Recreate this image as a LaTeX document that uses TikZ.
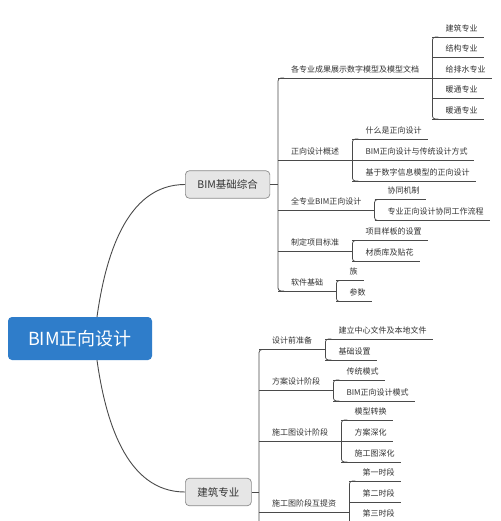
\documentclass[tikz,border=0pt]{standalone}
\usepackage{fontspec}
\setmainfont{Noto Sans CJK SC}
\usetikzlibrary{calc}
\definecolor{txt}{HTML}{333333}
\definecolor{linec}{HTML}{4A4A4A}
\definecolor{rootblue}{HTML}{2F7DCA}
\definecolor{boxfill}{HTML}{E6E6E6}
\definecolor{boxline}{HTML}{8C8C8C}
\tikzset{
  base/.style={font=\fontsize{8}{8}\selectfont, text=txt, inner xsep=0pt, inner ysep=3.5pt,
    text height=6pt, text depth=2pt, anchor=south west},
  l2/.style={base, execute at begin node=\hspace*{13pt}, execute at end node=\hspace*{13pt}},
  leaf/.style={base, execute at begin node=\hspace*{13pt}, execute at end node=\hspace*{6pt}},
  ln/.style={draw=linec, line width=0.75pt},
  br/.style={ln, rounded corners=3pt},
  rootbox/.style={fill=rootblue, rounded corners=4pt, text=white, font=\fontsize{18}{18}\selectfont,
    minimum width=144pt, minimum height=43pt, inner sep=0pt},
  subbox/.style={fill=boxfill, draw=boxline, line width=0.7pt, rounded corners=4pt, text=txt,
    font=\fontsize{10.5}{10.5}\selectfont, minimum height=27.5pt, inner xsep=12pt, inner ysep=0pt, anchor=west},
  curve/.style={ln, line width=0.9pt},
}
\begin{document}
\begin{tikzpicture}[x=1pt,y=-1pt]
\useasboundingbox (0,0) rectangle (500,521);
\fill[white] (0,0) rectangle (500,521);

% root and main topics
\node[rootbox] (r) at (80,338.5) {BIM正向设计};
\node[subbox] (b1) at (185,184.5) {BIM基础综合};
\node[subbox] (b2) at (185,492) {建筑专业};

\draw[curve] ([xshift=17pt]r.north) .. controls +(8,-57) and +(-60,0) .. (b1.west);
\draw[curve] ([xshift=17pt]r.south) .. controls +(8,57) and +(-60,0) .. (b2.west);

% BIM基础综合 branch
\node[l2] (a1) at (278,78) {各专业成果展示数字模型及模型文档};
\node[l2] (a2) at (278,160) {正向设计概述};
\node[l2] (a3) at (278,210) {全专业BIM正向设计};
\node[l2] (a4) at (278,251) {制定项目标准};
\node[l2] (a5) at (278,291) {软件基础};

\node[leaf] (a11) at (a1.south east |- 0,37) {建筑专业};
\node[leaf] (a12) at (a1.south east |- 0,57.5) {结构专业};
\node[leaf] (a13) at (a1.south east |- 0,78) {给排水专业};
\node[leaf] (a14) at (a1.south east |- 0,98.5) {暖通专业};
\node[leaf] (a15) at (a1.south east |- 0,119) {暖通专业};

\node[leaf] (a21) at (a2.south east |- 0,139) {什么是正向设计};
\node[leaf] (a22) at (a2.south east |- 0,160) {BIM正向设计与传统设计方式};
\node[leaf] (a23) at (a2.south east |- 0,181) {基于数字信息模型的正向设计};

\node[leaf] (a31) at (a3.south east |- 0,199.5) {协同机制};
\node[leaf] (a32) at (a3.south east |- 0,220.5) {专业正向设计协同工作流程};

\node[leaf] (a41) at (a4.south east |- 0,240.5) {项目样板的设置};
\node[leaf] (a42) at (a4.south east |- 0,261.5) {材质库及贴花};

\node[leaf] (a51) at (a5.south east |- 0,280.5) {族};
\node[leaf] (a52) at (a5.south east |- 0,301.5) {参数};

% 建筑专业 branch
\node[l2] (c1) at (259,349.5) {设计前准备};
\node[l2] (c2) at (259,390.5) {方案设计阶段};
\node[l2] (c3) at (259,441) {施工图设计阶段};
\node[l2] (c4) at (259,512) {施工图阶段互提资};

\node[leaf] (c11) at (c1.south east |- 0,339) {建立中心文件及本地文件};
\node[leaf] (c12) at (c1.south east |- 0,360) {基础设置};

\node[leaf] (c21) at (c2.south east |- 0,380) {传统模式};
\node[leaf] (c22) at (c2.south east |- 0,401) {BIM正向设计模式};

\node[leaf] (c31) at (c3.south east |- 0,420) {模型转换};
\node[leaf] (c32) at (c3.south east |- 0,441) {方案深化};
\node[leaf] (c33) at (c3.south east |- 0,462) {施工图深化};

\node[leaf] (c41) at (c4.south east |- 0,481) {第一时段};
\node[leaf] (c42) at (c4.south east |- 0,502) {第二时段};
\node[leaf] (c43) at (c4.south east |- 0,522.5) {第三时段};

\coordinate (cend) at (c1.south west |- 0,560);
\coordinate (c4end) at (c41.south west |- 0,560);

% underlines
\foreach \n in {a1,a2,a3,a4,a5,a11,a12,a13,a14,a15,a21,a22,a23,a31,a32,a41,a42,a51,a52,
  c1,c2,c3,c4,c11,c12,c21,c22,c31,c32,c33,c41,c42,c43}
  \draw[ln] (\n.south west) -- (\n.south east);

% brackets
\draw[ln] (b1.east) -- (b1.east -| a1.south west);
\draw[br] ($(a1.south west)+(6,0)$) -| (a5.south west) -- ++(6,0);
\draw[br] ($(a11.south west)+(6,0)$) -| (a15.south west) -- ++(6,0);
\draw[br] ($(a21.south west)+(6,0)$) -| (a23.south west) -- ++(6,0);
\draw[br] ($(a31.south west)+(6,0)$) -| (a32.south west) -- ++(6,0);
\draw[br] ($(a41.south west)+(6,0)$) -| (a42.south west) -- ++(6,0);
\draw[br] ($(a51.south west)+(6,0)$) -| (a52.south west) -- ++(6,0);

\draw[ln] (b2.east) -- (b2.east -| c1.south west);
\draw[br] ($(c1.south west)+(6,0)$) -| (cend);
\draw[br] ($(c11.south west)+(6,0)$) -| (c12.south west) -- ++(6,0);
\draw[br] ($(c21.south west)+(6,0)$) -| (c22.south west) -- ++(6,0);
\draw[br] ($(c31.south west)+(6,0)$) -| (c33.south west) -- ++(6,0);
\draw[br] ($(c41.south west)+(6,0)$) -| (c4end);
\end{tikzpicture}
\end{document}
